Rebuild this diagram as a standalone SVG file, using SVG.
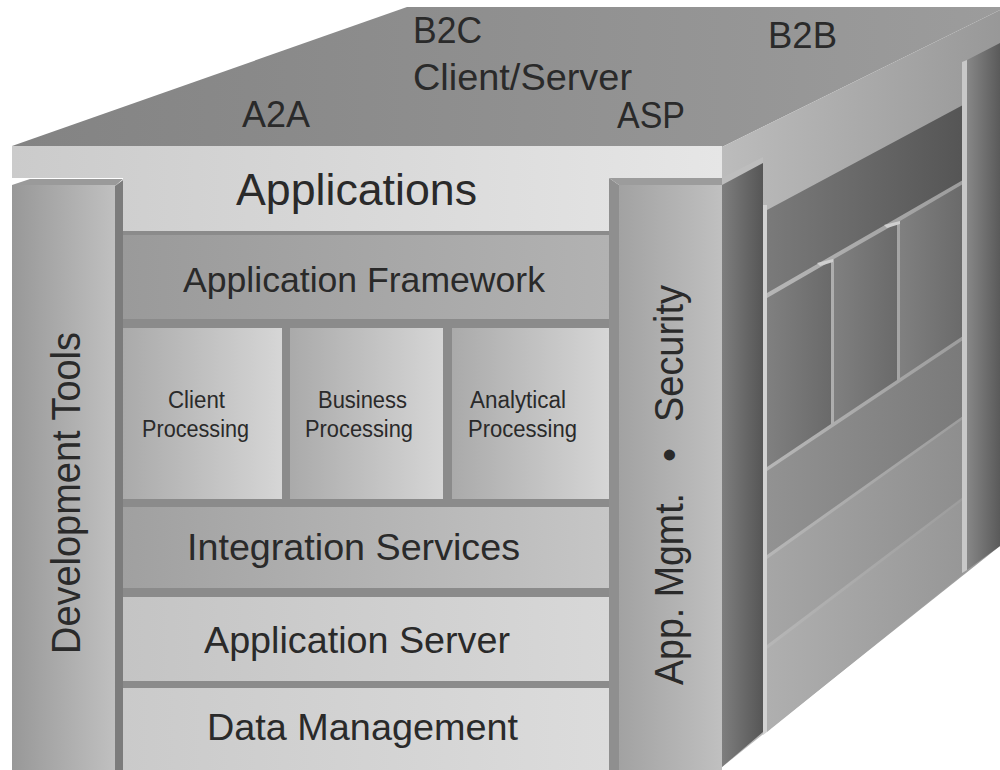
<svg xmlns="http://www.w3.org/2000/svg" width="1000" height="770" viewBox="0 0 1000 770">
<defs>
<linearGradient id="gTop" x1="0" y1="0" x2="1" y2="0"><stop offset="0" stop-color="#838383"/><stop offset="1" stop-color="#9c9c9c"/></linearGradient>
<linearGradient id="gSlab" x1="0" y1="0" x2="1" y2="0"><stop offset="0" stop-color="#cbcbcb"/><stop offset="1" stop-color="#e6e6e6"/></linearGradient>
<linearGradient id="gSide" x1="0" y1="0" x2="1" y2="0"><stop offset="0" stop-color="#bcbcbc"/><stop offset="1" stop-color="#989898"/></linearGradient>
<linearGradient id="gDev" x1="0" y1="0" x2="1" y2="0"><stop offset="0" stop-color="#989898"/><stop offset="1" stop-color="#c0c0c0"/></linearGradient>
<linearGradient id="gAF" x1="0" y1="0" x2="1" y2="0"><stop offset="0" stop-color="#9a9a9a"/><stop offset="1" stop-color="#b2b2b2"/></linearGradient>
<linearGradient id="gProc" x1="0" y1="0" x2="1" y2="0"><stop offset="0" stop-color="#aaaaaa"/><stop offset="1" stop-color="#d6d6d6"/></linearGradient>
<linearGradient id="gInt" x1="0" y1="0" x2="1" y2="0"><stop offset="0" stop-color="#a0a0a0"/><stop offset="1" stop-color="#c6c6c6"/></linearGradient>
<linearGradient id="gAS" x1="0" y1="0" x2="1" y2="0"><stop offset="0" stop-color="#c4c4c4"/><stop offset="1" stop-color="#d8d8d8"/></linearGradient>
<linearGradient id="gDM" x1="0" y1="0" x2="1" y2="0"><stop offset="0" stop-color="#cacaca"/><stop offset="1" stop-color="#dcdcdc"/></linearGradient>
<linearGradient id="gMgmt" x1="0" y1="0" x2="1" y2="0"><stop offset="0" stop-color="#a2a2a2"/><stop offset="1" stop-color="#c0c0c0"/></linearGradient>
<linearGradient id="gColSide" x1="0" y1="0" x2="1" y2="0"><stop offset="0" stop-color="#7e7e7e"/><stop offset="1" stop-color="#565656"/></linearGradient>
<linearGradient id="gBand" x1="0" y1="0" x2="1" y2="0"><stop offset="0" stop-color="#7a7a7a"/><stop offset="1" stop-color="#555555"/></linearGradient>
<linearGradient id="gPS" x1="0" y1="0" x2="1" y2="0"><stop offset="0" stop-color="#808080"/><stop offset="1" stop-color="#6a6a6a"/></linearGradient>
<linearGradient id="gIS" x1="0" y1="0" x2="1" y2="0"><stop offset="0" stop-color="#929292"/><stop offset="1" stop-color="#7a7a7a"/></linearGradient>
<linearGradient id="gASS" x1="0" y1="0" x2="1" y2="0"><stop offset="0" stop-color="#a6a6a6"/><stop offset="1" stop-color="#8e8e8e"/></linearGradient>
<linearGradient id="gDMS" x1="0" y1="0" x2="1" y2="0"><stop offset="0" stop-color="#afafaf"/><stop offset="1" stop-color="#979797"/></linearGradient>
<linearGradient id="gBack" x1="0" y1="0" x2="1" y2="0"><stop offset="0" stop-color="#878787"/><stop offset="1" stop-color="#5a5a5a"/></linearGradient>
</defs>
<style>
text{font-family:"Liberation Sans",Arial,"DejaVu Sans",sans-serif;fill:#2a2a2a;}
.t37{font-size:37px;}
.t23{font-size:23px;}
.sep{fill:#8b8b8b;}
.hl{fill:#cfcfcf;}
</style>
<rect width="1000" height="770" fill="#ffffff"/>

<g id="top-face">
<polygon points="12,146 407,7 1000,7 1000,10 722,147" fill="url(#gTop)"/>
<text class="t37" x="413" y="43" textLength="69" lengthAdjust="spacingAndGlyphs">B2C</text>
<text class="t37" x="413" y="90" textLength="219" lengthAdjust="spacingAndGlyphs">Client/Server</text>
<text class="t37" x="242" y="127" textLength="68" lengthAdjust="spacingAndGlyphs">A2A</text>
<text class="t37" x="617" y="128" textLength="68" lengthAdjust="spacingAndGlyphs">ASP</text>
<text class="t37" x="768" y="48" textLength="69" lengthAdjust="spacingAndGlyphs">B2B</text>
</g>

<g id="right-face">
<polygon points="722,147 1000,10 1000,546 722,767" fill="url(#gSide)"/>
<polygon points="767,210 963,105 963,180 767,293" fill="url(#gBand)"/>
<polygon points="767,298 831,261 831,424 767,467" fill="url(#gPS)"/>
<polygon points="834,259 897,223 897,380 834,422" fill="url(#gPS)"/>
<polygon points="900,221 963,184 963,336 900,378" fill="url(#gPS)"/>
<polygon points="767,471 963,340 963,416 767,555" fill="url(#gIS)"/>
<polygon points="767,559 963,419 963,497 767,645" fill="url(#gASS)"/>
<polygon points="767,649 963,500 963,574 767,732" fill="url(#gDMS)"/>
<polygon points="763,205 767,205 767,732 763,735" fill="#d2d2d2"/>
<polygon points="817,263 833,259 833,262 820,266" class="hl"/>
<polygon points="884,225 900,221 900,224 887,228" class="hl"/>
</g>

<g id="back-column">
<polygon points="962,62 967,60 967,570 962,573" fill="#c8c8c8"/>
<polygon points="967,60 1000,43 1000,546 967,570" fill="url(#gBack)"/>
</g>

<g id="applications">
<polygon points="12,146 722,146 722,178 609,178 609,231 123,231 123,178 12,178" fill="url(#gSlab)"/>
<text x="236" y="205" style="font-size:44px" textLength="241" lengthAdjust="spacingAndGlyphs">Applications</text>
</g>

<g id="layer-bed">
<rect x="123" y="231" width="486" height="539" class="sep"/>
</g>

<g id="application-framework">
<rect x="123" y="235" width="486" height="84" fill="url(#gAF)"/>
<text x="183" y="292" style="font-size:35px" textLength="362" lengthAdjust="spacingAndGlyphs">Application Framework</text>
</g>

<g id="client-processing">
<rect x="123" y="328" width="159" height="171" fill="url(#gProc)"/>
<text class="t23" x="168" y="408" textLength="57" lengthAdjust="spacingAndGlyphs">Client</text>
<text class="t23" x="142" y="437" textLength="107" lengthAdjust="spacingAndGlyphs">Processing</text>
</g>

<g id="business-processing">
<rect x="290" y="328" width="153" height="171" fill="url(#gProc)"/>
<text class="t23" x="318" y="408" textLength="89" lengthAdjust="spacingAndGlyphs">Business</text>
<text class="t23" x="305" y="437" textLength="108" lengthAdjust="spacingAndGlyphs">Processing</text>
</g>

<g id="analytical-processing">
<rect x="452" y="328" width="157" height="171" fill="url(#gProc)"/>
<text class="t23" x="470" y="408" textLength="96" lengthAdjust="spacingAndGlyphs">Analytical</text>
<text class="t23" x="468" y="437" textLength="109" lengthAdjust="spacingAndGlyphs">Processing</text>
</g>

<g id="integration-services">
<rect x="123" y="507" width="486" height="81" fill="url(#gInt)"/>
<text class="t37" x="187" y="560" textLength="333" lengthAdjust="spacingAndGlyphs">Integration Services</text>
</g>

<g id="application-server">
<rect x="123" y="597" width="486" height="84" fill="url(#gAS)"/>
<text class="t37" x="204" y="653" textLength="306" lengthAdjust="spacingAndGlyphs">Application Server</text>
</g>

<g id="data-management">
<rect x="123" y="688" width="486" height="82" fill="url(#gDM)"/>
<text class="t37" x="207" y="740" textLength="311" lengthAdjust="spacingAndGlyphs">Data Management</text>
</g>

<g id="development-tools">
<polygon points="12,185 30,179 123,179 115,186" fill="#9a9a9a"/>
<rect x="12" y="185" width="103" height="585" fill="url(#gDev)"/>
<polygon points="115,186 123,180 123,770 115,770" fill="#7c7c7c"/>
<text transform="translate(80,654) rotate(-90)" style="font-size:40px" textLength="322" lengthAdjust="spacingAndGlyphs">Development Tools</text>
</g>

<g id="app-mgmt-security">
<polygon points="609,178 619,185 619,770 609,770" fill="#8f8f8f"/>
<polygon points="609,178 722,178 722,185 619,185" fill="#9c9c9c"/>
<rect x="619" y="185" width="103" height="585" fill="url(#gMgmt)"/>
<polygon points="722,178 763,157 763,163 722,185" fill="#bdbdbd"/>
<polygon points="722,185 763,163 763,732 722,767" fill="url(#gColSide)"/>
<text transform="translate(683,685) rotate(-90)" style="font-size:40px"><tspan x="0" textLength="192" lengthAdjust="spacingAndGlyphs">App. Mgmt.</tspan> <tspan x="223">•</tspan> <tspan x="263" textLength="137" lengthAdjust="spacingAndGlyphs">Security</tspan></text>
</g>
</svg>
